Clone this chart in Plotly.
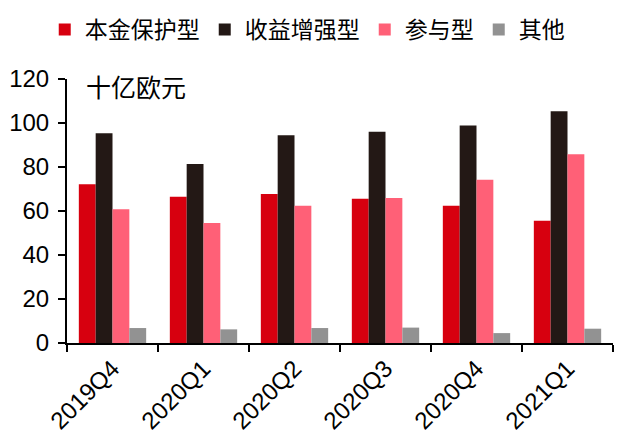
import plotly.graph_objects as go

categories = ["2019Q4", "2020Q1", "2020Q2", "2020Q3", "2020Q4", "2021Q1"]
capital_protected = [72.2, 66.5, 67.7, 65.6, 62.4, 55.6]
yield_enhanced = [95.3, 81.4, 94.4, 96.0, 98.9, 105.3]
participation = [60.8, 54.6, 62.4, 65.9, 74.2, 85.8]
other = [6.8, 6.2, 6.8, 7.0, 4.5, 6.5]

series_names = ["本金保护型", "收益增强型", "参与型", "其他"]
series_values = [capital_protected, yield_enhanced, participation, other]
colors = ["#D7000F", "#231815", "#FF6077", "#929292"]

font_family = "Liberation Sans, Arial, Noto Sans CJK SC"

fig = go.Figure()
for name, vals, col in zip(series_names, series_values, colors):
    fig.add_trace(go.Bar(x=categories, y=vals, name=name, marker_color=col,
                         marker_line_width=0))

fig.update_layout(
    width=630, height=447,
    barmode="group", bargap=0.26, bargroupgap=0,
    plot_bgcolor="white", paper_bgcolor="white",
    margin=dict(l=59, r=25, t=71, b=112, autoexpand=False),
    font=dict(family=font_family, size=20, color="black"),
    legend=dict(orientation="h", x=0.44, xanchor="center", y=1.0, yref="container",
                yanchor="top", font=dict(size=23, family="Noto Sans CJK SC"),
                traceorder="normal", tracegroupgap=0),
    showlegend=True,
)
fig.update_xaxes(
    type="category", showline=True, linecolor="black", linewidth=2,
    ticks="outside", tickson="boundaries", ticklen=7, tickwidth=2, tickcolor="black",
    tickangle=-45, tickfont=dict(size=24), showgrid=False,
)
fig.update_yaxes(
    range=[0, 120], dtick=20, showline=True, linecolor="black", linewidth=2,
    ticks="outside", ticklen=7, tickwidth=2, tickcolor="black",
    tickfont=dict(size=24), showgrid=False, zeroline=False,
    ticklabelstandoff=4,
)
fig.add_annotation(text="十亿欧元", xref="paper", yref="paper", x=0.031, y=0.975,
                   xanchor="left", yanchor="middle", showarrow=False,
                   font=dict(size=25, family="Noto Sans CJK SC"))

fig.write_html("out.html")
